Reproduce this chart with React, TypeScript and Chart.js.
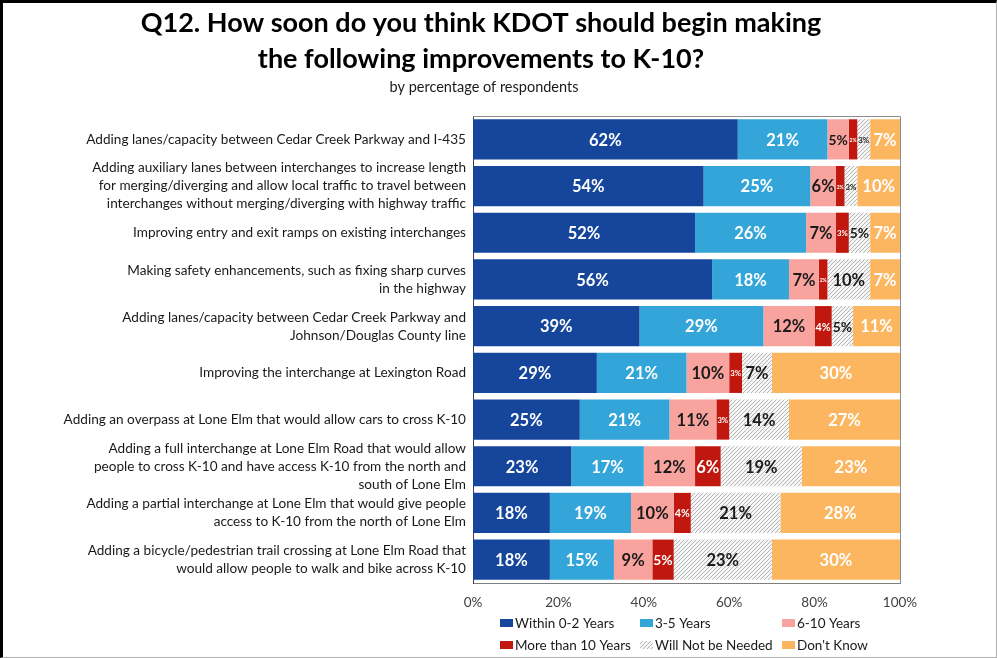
import React, { useEffect, useRef } from 'react';
import { Chart, registerables } from 'chart.js';

Chart.register(...registerables);

const titleLines = ['Q12. How soon do you think KDOT should begin making', 'the following improvements to K-10?'];
const subtitle = 'by percentage of respondents';

const categories: string[][] = [
  ['Adding lanes/capacity between Cedar Creek Parkway and I-435'],
  [
    'Adding auxiliary lanes between interchanges to increase length',
    'for merging/diverging and allow local traffic to travel between',
    'interchanges without merging/diverging with highway traffic',
  ],
  ['Improving entry and exit ramps on existing interchanges'],
  ['Making safety enhancements, such as fixing sharp curves', 'in the highway'],
  ['Adding lanes/capacity between Cedar Creek Parkway and', 'Johnson/Douglas County line'],
  ['Improving the interchange at Lexington Road'],
  ['Adding an overpass at Lone Elm that would allow cars to cross K-10'],
  [
    'Adding a full interchange at Lone Elm Road that would allow',
    'people to cross K-10 and have access K-10 from the north and',
    'south of Lone Elm',
  ],
  ['Adding a partial interchange at Lone Elm that would give people', 'access to K-10 from the north of Lone Elm'],
  ['Adding a bicycle/pedestrian trail crossing at Lone Elm Road that', 'would allow people to walk and bike across K-10'],
];

const seriesNames = ['Within 0-2 Years', '3-5 Years', '6-10 Years', 'More than 10 Years', 'Will Not be Needed', "Don't Know"];

const within02 = [62, 54, 52, 56, 39, 29, 25, 23, 18, 18];
const years35 = [21, 25, 26, 18, 29, 21, 21, 17, 19, 15];
const years610 = [5, 6, 7, 7, 12, 10, 11, 12, 10, 9];
const moreThan10 = [2, 2, 3, 2, 4, 3, 3, 6, 4, 5];
const notNeeded = [3, 3, 5, 10, 5, 7, 14, 19, 21, 23];
const dontKnow = [7, 10, 7, 7, 11, 30, 27, 23, 28, 30];

const xTicks = [0, 20, 40, 60, 80, 100];

const seriesColors = ['#16469b', '#33a5d8', '#f9a39e', '#c0180f', 'HATCH', '#fcb660'];
const labelColors = ['#ffffff', '#ffffff', '#1a1a1a', '#ffffff', '#1a1a1a', '#ffffff'];

const FONT = 'Lato, "Open Sans", sans-serif';

function makeHatch(): CanvasPattern | string {
  const c = document.createElement('canvas');
  c.width = 4;
  c.height = 4;
  const g = c.getContext('2d');
  if (!g) return '#dddddd';
  g.fillStyle = '#f6f6f6';
  g.fillRect(0, 0, 4, 4);
  g.strokeStyle = '#b4b4b4';
  g.lineWidth = 1;
  g.beginPath();
  g.moveTo(0, 4);
  g.lineTo(4, 0);
  g.moveTo(-1, 1);
  g.lineTo(1, -1);
  g.moveTo(3, 5);
  g.lineTo(5, 3);
  g.stroke();
  const p = g.createPattern(c, 'repeat');
  return p || '#dddddd';
}

export default function App() {
  const ref = useRef<HTMLCanvasElement>(null);

  useEffect(() => {
    if (!ref.current) return;
    const hatch = makeHatch();
    const values = [within02, years35, years610, moreThan10, notNeeded, dontKnow];

    const decorPlugin = {
      id: 'decor',
      afterDatasetsDraw(chart: any) {
        const ctx = chart.ctx;
        const area = chart.chartArea;
        ctx.save();
        ctx.strokeStyle = '#8c8c8c';
        ctx.lineWidth = 1;
        ctx.beginPath();
        ctx.moveTo(area.left, area.top + 0.5);
        ctx.lineTo(area.right + 0.5, area.top + 0.5);
        ctx.lineTo(area.right + 0.5, area.bottom + 0.5);
        ctx.stroke();
        chart.data.datasets.forEach((ds: any, di: number) => {
          const meta = chart.getDatasetMeta(di);
          meta.data.forEach((el: any, i: number) => {
            const v = ds.data[i];
            if (!v) return;
            const left = Math.min(el.x, el.base);
            const right = Math.min(Math.max(el.x, el.base), area.right);
            const w = right - left;
            const text = v + '%';
            let size = 16.5;
            ctx.font = `bold ${size}px ${FONT}`;
            const tw = ctx.measureText(text).width;
            if (tw > w - 2) size = Math.max(5, (size * (w - 2)) / tw);
            ctx.font = `bold ${size}px ${FONT}`;
            ctx.fillStyle = labelColors[di];
            ctx.textAlign = 'center';
            ctx.textBaseline = 'middle';
            ctx.fillText(text, (left + right) / 2, el.y + 1);
          });
        });
        ctx.restore();
      },
      afterDraw(chart: any) {
        const ctx = chart.ctx;
        ctx.save();
        ctx.fillStyle = '#000000';
        ctx.textAlign = 'center';
        ctx.textBaseline = 'middle';
        ctx.font = `bold 27px ${FONT}`;
        ctx.fillText(titleLines[0], 481, 23);
        ctx.fillText(titleLines[1], 481, 59);
        ctx.font = `14.5px ${FONT}`;
        ctx.fillStyle = '#1a1a1a';
        ctx.fillText(subtitle, 484, 87);
        const cols = [500, 640, 782];
        const rows = [623, 645];
        ctx.textAlign = 'left';
        ctx.font = `13.5px ${FONT}`;
        chart.data.datasets.forEach((ds: any, di: number) => {
          const x = cols[di % 3];
          const y = rows[Math.floor(di / 3)];
          ctx.fillStyle = ds.backgroundColor;
          ctx.fillRect(x, y - 4, 13, 8);
          ctx.fillStyle = '#1a1a1a';
          ctx.fillText(ds.label, x + 15, y + 1);
        });
        ctx.restore();
      },
    };

    const chart = new Chart(ref.current, {
      type: 'bar',
      data: {
        labels: categories,
        datasets: seriesNames.map((name, i) => ({
          label: name,
          data: values[i],
          backgroundColor: seriesColors[i] === 'HATCH' ? (hatch as any) : seriesColors[i],
          borderWidth: 0,
          categoryPercentage: 1,
          barPercentage: 0.86,
        })),
      },
      options: {
        indexAxis: 'y',
        responsive: false,
        animation: false,
        devicePixelRatio: 1,
        layout: { padding: { top: 116, right: 97, bottom: 47, left: 0 } },
        plugins: {
          legend: { display: false },
          tooltip: { enabled: false },
          title: { display: false },
        },
        scales: {
          x: {
            stacked: true,
            min: 0,
            max: 100,
            afterBuildTicks: (s: any) => {
              s.ticks = xTicks.map((v) => ({ value: v }));
            },
            ticks: {
              callback: (v: any) => v + '%',
              font: { family: FONT, size: 13.5 },
              color: '#404040',
              padding: 12,
              maxRotation: 0,
            },
            grid: { display: false, drawTicks: false },
            border: { display: true, color: '#7f7f7f' },
            afterFit: (s: any) => {
              s.height = 28;
            },
          },
          y: {
            stacked: true,
            ticks: {
              font: { family: FONT, size: 13.6, lineHeight: 1.32 },
              color: '#1a1a1a',
              padding: 7,
              autoSkip: false,
            },
            grid: { display: false, drawTicks: false },
            border: { display: true, color: '#404040' },
            afterFit: (s: any) => {
              s.width = 473;
            },
          },
        },
      },
      plugins: [decorPlugin],
    });
    return () => chart.destroy();
  }, []);

  return (
    <div style={{ position: 'fixed', left: 0, top: 0, width: 997, height: 658, background: '#fff' }}>
      <canvas ref={ref} width={997} height={658} style={{ display: 'block' }} />
      <div
        style={{
          position: 'absolute',
          left: 0,
          top: 0,
          width: 997,
          height: 658,
          boxSizing: 'border-box',
          borderLeft: '3px solid #000',
          borderTop: '3px solid #000',
          borderRight: '1px solid #b0b0b0',
          borderBottom: '1px solid #b0b0b0',
          pointerEvents: 'none',
        }}
      />
    </div>
  );
}
